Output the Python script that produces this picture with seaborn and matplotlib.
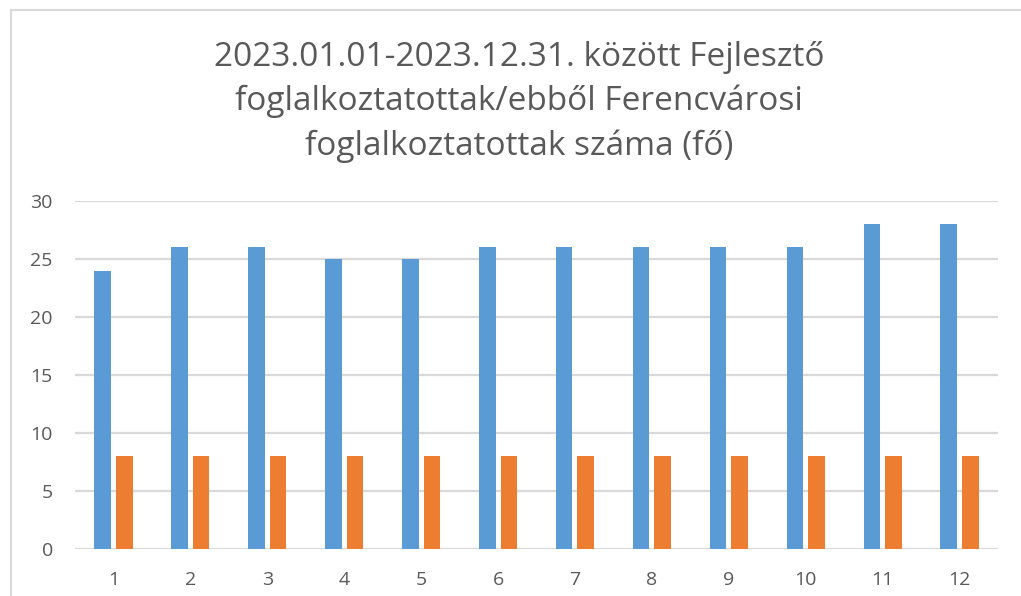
import numpy as np
import pandas as pd
import matplotlib
matplotlib.use('Agg')
import matplotlib.pyplot as plt
import seaborn as sns
from matplotlib.lines import Line2D

# adatok
honapok = [str(i) for i in range(1, 13)]
fejleszto = [24, 26, 26, 25, 25, 26, 26, 26, 26, 26, 28, 28]
ferencvarosi = [8, 8, 8, 8, 8, 8, 8, 8, 8, 8, 8, 8]
sorozatok = ['Fejlesztő foglalkoztatottak', 'ebből Ferencvárosi foglalkoztatottak']
szinek = ['#5B9BD5', '#ED7D31']

cim = ('2023.01.01-2023.12.31. között Fejlesztő\n'
       'foglalkoztatottak/ebből Ferencvárosi\n'
       'foglalkoztatottak száma (fő)')

df = pd.DataFrame({
    'honap': honapok * 2,
    'ertek': fejleszto + ferencvarosi,
    'sorozat': [sorozatok[0]] * 12 + [sorozatok[1]] * 12,
})

sns.set_style('white')
plt.rcParams['font.family'] = ['Open Sans', 'DejaVu Sans']

W, H = 1021, 596
fig = plt.figure(figsize=(W / 100, H / 100), dpi=100)
ax = fig.add_axes([75 / W, 1 - 549 / H, (998 - 75) / W, (549 - 201) / H])

sns.barplot(data=df, x='honap', y='ertek', hue='sorozat', palette=szinek,
            saturation=1, linewidth=0, width=0.56, gap=0.23,
            order=honapok, hue_order=sorozatok, legend=False, ax=ax, zorder=3)

ax.set_ylim(0, 30)
ax.set_yticks(range(0, 31, 5))
ax.yaxis.grid(True, color='#d9d9d9', linewidth=1.6, zorder=0)
ax.set_axisbelow(True)
ax.set_xlabel('')
ax.set_ylabel('')
for s in ax.spines.values():
    s.set_visible(False)
ax.tick_params(axis='both', length=0, labelsize=14, colors='#595959')
ax.tick_params(axis='y', pad=16)
ax.tick_params(axis='x', pad=16)

fig.text(519 / W, 1 - 102 / H, cim, ha='center', va='center', fontsize=24,
         color='#595959', linespacing=1.42)

# diagram keret
keret_szin = '#d9d9d9'
fig.add_artist(Line2D([11 / W, 1.0], [1 - 10 / H, 1 - 10 / H], color=keret_szin, lw=1.5,
                      transform=fig.transFigure))
fig.add_artist(Line2D([11 / W, 11 / W], [0, 1 - 10 / H], color=keret_szin, lw=1.5,
                      transform=fig.transFigure))

fig.savefig('out.png', dpi=100)
